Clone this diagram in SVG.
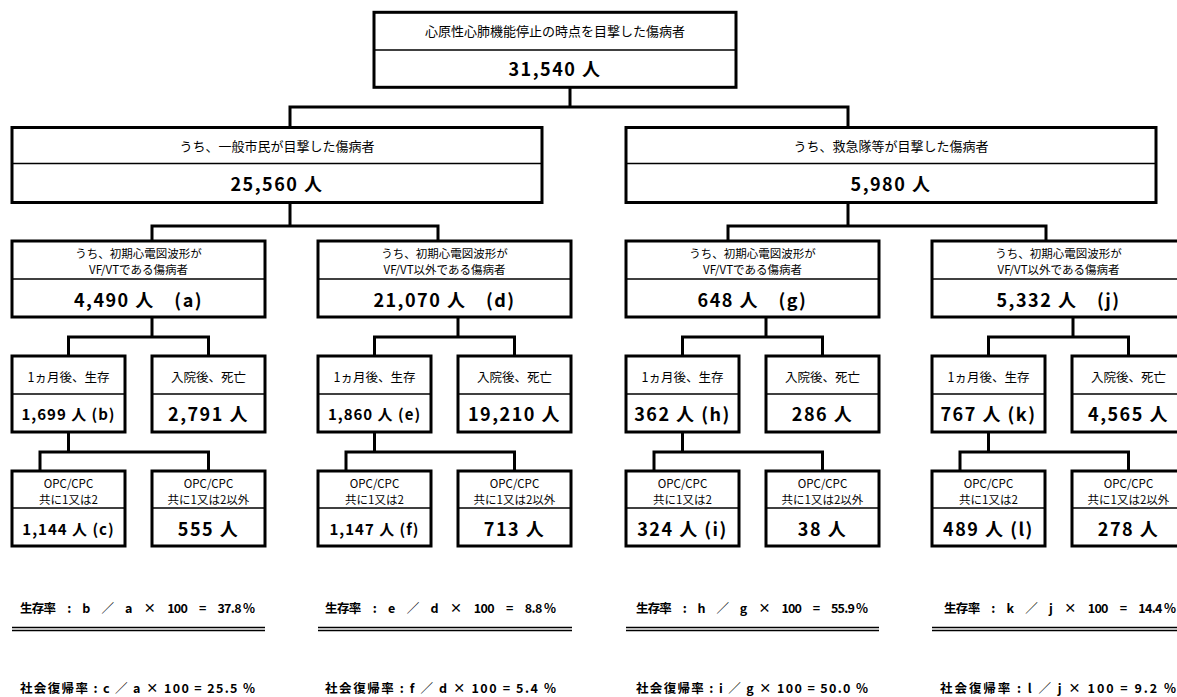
<svg xmlns="http://www.w3.org/2000/svg" width="1177" height="697" viewBox="0 0 1177 697">
<style>
.box{fill:#fff;stroke:#000;stroke-width:3}
.dv{stroke:#000;stroke-width:1.4}
.cn{fill:none;stroke:#000;stroke-width:3}
.dl{stroke:#000;stroke-width:1.4}
text{font-family:"Noto Sans CJK JP","Noto Sans CJK SC",sans-serif;text-anchor:middle;fill:#000}
.lb{font-size:12.5px}
.l2{font-size:11.5px}
.lt{font-size:13px}
.nm{font-size:18px;font-weight:bold;letter-spacing:1.5px}
.ns{font-size:15px;font-weight:bold;letter-spacing:1px}
.f{font-size:12.5px;font-weight:bold;text-anchor:start}
</style>
<rect width="1177" height="697" fill="#fff"/>
<g id="connectors">
<path class="cn" d="M570 87 V107 M290 127 V107 H848 V127"/>
<path class="cn" d="M290 202 V226 M152 241 V226 H438 V241"/>
<path class="cn" d="M848 202 V226 M728 241 V226 H1046 V241"/>
<path class="cn" d="M152 317 V337 M68.5 356 V337 H208.5 V356 M68.5 432 V452 M40 471 V452 H208.5 V471"/>
<path class="cn" d="M458 317 V337 M374.5 356 V337 H514.5 V356 M374.5 432 V452 M346 471 V452 H514.5 V471"/>
<path class="cn" d="M766 317 V337 M682.5 356 V337 H822.5 V356 M682.5 432 V452 M654 471 V452 H822.5 V471"/>
<path class="cn" d="M1073 317 V337 M988.5 356 V337 H1128.5 V356 M988.5 432 V452 M960 471 V452 H1128.5 V471"/>
</g>
<g id="n-total">
<rect class="box" x="374" y="12.3" width="362" height="75"/>
<line class="dv" x1="374" y1="50" x2="736" y2="50"/>
<text class="lt" x="555" y="36">心原性心肺機能停止の時点を目撃した傷病者</text>
<text class="nm" x="555" y="75.5">31,540 人</text>
</g>
<g id="n-citizen">
<rect class="box" x="12" y="127.5" width="530" height="75"/>
<line class="dv" x1="12" y1="163.5" x2="542" y2="163.5"/>
<text class="lt" x="277" y="150.5">うち、一般市民が目撃した傷病者</text>
<text class="nm" x="277" y="190.5">25,560 人</text>
</g>
<g id="n-ems">
<rect class="box" x="626" y="127.5" width="530" height="75"/>
<line class="dv" x1="626" y1="163.5" x2="1156" y2="163.5"/>
<text class="lt" x="891" y="150.5">うち、救急隊等が目撃した傷病者</text>
<text class="nm" x="891" y="190.5">5,980 人</text>
</g>
<g id="n-a">
<rect class="box" x="12" y="241" width="253" height="76"/>
<line class="dv" x1="12" y1="279" x2="265" y2="279"/>
<text class="l2" x="138.5" y="257.5">うち、初期心電図波形が</text>
<text class="l2" x="138.5" y="273.5">VF/VTである傷病者</text>
<text class="nm" x="138.5" y="306.5">4,490 人　(a)</text>
</g>
<g id="n-d">
<rect class="box" x="318" y="241" width="253" height="76"/>
<line class="dv" x1="318" y1="279" x2="571" y2="279"/>
<text class="l2" x="444.5" y="257.5">うち、初期心電図波形が</text>
<text class="l2" x="444.5" y="273.5">VF/VT以外である傷病者</text>
<text class="nm" x="444.5" y="306.5">21,070 人　(d)</text>
</g>
<g id="n-g">
<rect class="box" x="626" y="241" width="253" height="76"/>
<line class="dv" x1="626" y1="279" x2="879" y2="279"/>
<text class="l2" x="752.5" y="257.5">うち、初期心電図波形が</text>
<text class="l2" x="752.5" y="273.5">VF/VTである傷病者</text>
<text class="nm" x="752.5" y="306.5">648 人　(g)</text>
</g>
<g id="n-j">
<rect class="box" x="932" y="241" width="253" height="76"/>
<line class="dv" x1="932" y1="279" x2="1185" y2="279"/>
<text class="l2" x="1058.5" y="257.5">うち、初期心電図波形が</text>
<text class="l2" x="1058.5" y="273.5">VF/VT以外である傷病者</text>
<text class="nm" x="1058.5" y="306.5">5,332 人　(j)</text>
</g>
<g id="n-b">
<rect class="box" x="12" y="356" width="113" height="76"/>
<line class="dv" x1="12" y1="394" x2="125" y2="394"/>
<text class="lb" x="68.5" y="381.5">1ヵ月後、生存</text>
<text class="ns" x="68.5" y="419.5">1,699 人 (b)</text>
</g>
<g id="n-a-dead">
<rect class="box" x="152" y="356" width="113" height="76"/>
<line class="dv" x1="152" y1="394" x2="265" y2="394"/>
<text class="lb" x="208.5" y="381.5">入院後、死亡</text>
<text class="nm" x="208.5" y="420.5">2,791 人</text>
</g>
<g id="n-e">
<rect class="box" x="318" y="356" width="113" height="76"/>
<line class="dv" x1="318" y1="394" x2="431" y2="394"/>
<text class="lb" x="374.5" y="381.5">1ヵ月後、生存</text>
<text class="ns" x="374.5" y="419.5">1,860 人 (e)</text>
</g>
<g id="n-d-dead">
<rect class="box" x="458" y="356" width="113" height="76"/>
<line class="dv" x1="458" y1="394" x2="571" y2="394"/>
<text class="lb" x="514.5" y="381.5">入院後、死亡</text>
<text class="nm" x="514.5" y="420.5">19,210 人</text>
</g>
<g id="n-h">
<rect class="box" x="626" y="356" width="113" height="76"/>
<line class="dv" x1="626" y1="394" x2="739" y2="394"/>
<text class="lb" x="682.5" y="381.5">1ヵ月後、生存</text>
<text class="nm" x="682.5" y="420.5">362 人 (h)</text>
</g>
<g id="n-g-dead">
<rect class="box" x="766" y="356" width="113" height="76"/>
<line class="dv" x1="766" y1="394" x2="879" y2="394"/>
<text class="lb" x="822.5" y="381.5">入院後、死亡</text>
<text class="nm" x="822.5" y="420.5">286 人</text>
</g>
<g id="n-k">
<rect class="box" x="932" y="356" width="113" height="76"/>
<line class="dv" x1="932" y1="394" x2="1045" y2="394"/>
<text class="lb" x="988.5" y="381.5">1ヵ月後、生存</text>
<text class="nm" x="988.5" y="420.5">767 人 (k)</text>
</g>
<g id="n-j-dead">
<rect class="box" x="1072" y="356" width="113" height="76"/>
<line class="dv" x1="1072" y1="394" x2="1185" y2="394"/>
<text class="lb" x="1128.5" y="381.5">入院後、死亡</text>
<text class="nm" x="1128.5" y="420.5">4,565 人</text>
</g>
<g id="n-c">
<rect class="box" x="12" y="471" width="113" height="75"/>
<line class="dv" x1="12" y1="508" x2="125" y2="508"/>
<text class="l2" x="68.5" y="488">OPC/CPC</text>
<text class="l2" x="68.5" y="504">共に1又は2</text>
<text class="ns" x="68.5" y="534.5">1,144 人 (c)</text>
</g>
<g id="n-c-other">
<rect class="box" x="152" y="471" width="113" height="75"/>
<line class="dv" x1="152" y1="508" x2="265" y2="508"/>
<text class="l2" x="208.5" y="488">OPC/CPC</text>
<text class="l2" x="208.5" y="504">共に1又は2以外</text>
<text class="nm" x="208.5" y="535.5">555 人</text>
</g>
<g id="n-f">
<rect class="box" x="318" y="471" width="113" height="75"/>
<line class="dv" x1="318" y1="508" x2="431" y2="508"/>
<text class="l2" x="374.5" y="488">OPC/CPC</text>
<text class="l2" x="374.5" y="504">共に1又は2</text>
<text class="ns" x="374.5" y="534.5">1,147 人 (f)</text>
</g>
<g id="n-f-other">
<rect class="box" x="458" y="471" width="113" height="75"/>
<line class="dv" x1="458" y1="508" x2="571" y2="508"/>
<text class="l2" x="514.5" y="488">OPC/CPC</text>
<text class="l2" x="514.5" y="504">共に1又は2以外</text>
<text class="nm" x="514.5" y="535.5">713 人</text>
</g>
<g id="n-i">
<rect class="box" x="626" y="471" width="113" height="75"/>
<line class="dv" x1="626" y1="508" x2="739" y2="508"/>
<text class="l2" x="682.5" y="488">OPC/CPC</text>
<text class="l2" x="682.5" y="504">共に1又は2</text>
<text class="nm" x="682.5" y="535.5">324 人 (i)</text>
</g>
<g id="n-i-other">
<rect class="box" x="766" y="471" width="113" height="75"/>
<line class="dv" x1="766" y1="508" x2="879" y2="508"/>
<text class="l2" x="822.5" y="488">OPC/CPC</text>
<text class="l2" x="822.5" y="504">共に1又は2以外</text>
<text class="nm" x="822.5" y="535.5">38 人</text>
</g>
<g id="n-l">
<rect class="box" x="932" y="471" width="113" height="75"/>
<line class="dv" x1="932" y1="508" x2="1045" y2="508"/>
<text class="l2" x="988.5" y="488">OPC/CPC</text>
<text class="l2" x="988.5" y="504">共に1又は2</text>
<text class="nm" x="988.5" y="535.5">489 人 (l)</text>
</g>
<g id="n-l-other">
<rect class="box" x="1072" y="471" width="113" height="75"/>
<line class="dv" x1="1072" y1="508" x2="1185" y2="508"/>
<text class="l2" x="1128.5" y="488">OPC/CPC</text>
<text class="l2" x="1128.5" y="504">共に1又は2以外</text>
<text class="nm" x="1128.5" y="535.5">278 人</text>
</g>
<g id="rates">
<text class="f" x="20" y="613" textLength="235" lengthAdjust="spacing">生存率　:　b　／　a　×　100　=　37.8 %</text>
<text class="f" x="325" y="613" textLength="231" lengthAdjust="spacing">生存率　:　e　／　d　×　100　=　8.8 %</text>
<text class="f" x="636" y="613" textLength="232" lengthAdjust="spacing">生存率　:　h　／　g　×　100　=　55.9 %</text>
<text class="f" x="944" y="613" textLength="232" lengthAdjust="spacing">生存率　:　k　／　j　×　100　=　14.4 %</text>
<line class="dl" x1="12" y1="627.5" x2="265" y2="627.5"/>
<line class="dl" x1="12" y1="630.5" x2="265" y2="630.5"/>
<line class="dl" x1="318" y1="627.5" x2="572" y2="627.5"/>
<line class="dl" x1="318" y1="630.5" x2="572" y2="630.5"/>
<line class="dl" x1="626" y1="627.5" x2="879" y2="627.5"/>
<line class="dl" x1="626" y1="630.5" x2="879" y2="630.5"/>
<line class="dl" x1="932" y1="627.5" x2="1185" y2="627.5"/>
<line class="dl" x1="932" y1="630.5" x2="1185" y2="630.5"/>
<text class="f" x="20" y="693" textLength="235" lengthAdjust="spacing">社会復帰率 : c ／ a × 100 = 25.5 %</text>
<text class="f" x="325" y="693" textLength="231" lengthAdjust="spacing">社会復帰率 : f ／ d × 100 = 5.4 %</text>
<text class="f" x="636" y="693" textLength="232" lengthAdjust="spacing">社会復帰率 : i ／ g × 100 = 50.0 %</text>
<text class="f" x="940" y="693" textLength="236" lengthAdjust="spacing">社会復帰率 : l ／ j × 100 = 9.2 %</text>
</g>
</svg>
